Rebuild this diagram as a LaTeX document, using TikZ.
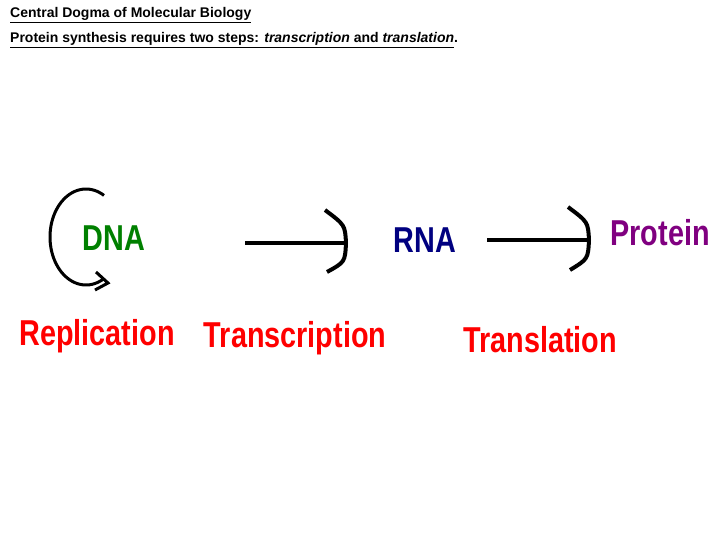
\documentclass[tikz,border=0pt]{standalone}
\usepackage{fontspec}
\setmainfont{Liberation Sans}
\begin{document}
\begin{tikzpicture}[x=1pt,y=-1pt,
  big/.style={font=\fontsize{36}{36}\bfseries, xscale=0.8, inner sep=0pt},
  conn/.style={line width=4pt}]
\useasboundingbox (0,0) rectangle (728,546);
\node[anchor=west, inner sep=0pt, font=\fontsize{14}{14}\bfseries] (t1) at (10,15) {\underline{Central Dogma of Molecular Biology}};
\node[anchor=west, inner sep=0pt, font=\fontsize{14}{14}\bfseries] (t2) at (10,40) {\underline{Protein synthesis requires two steps: \textit{transcription} and \textit{translation}}.};
\node[big, text={rgb,255:red,0;green,128;blue,0}] (dna) at (114,238) {DNA};
\node[big, text={rgb,255:red,0;green,0;blue,128}] (rna) at (425,240) {RNA};
\node[big, text={rgb,255:red,128;green,0;blue,128}] (prot) at (660,233) {Protein};
\node[big, text=red] (rep) at (97,336) {Replication};
\node[big, text=red] (tsc) at (295,338) {Transcription};
\node[big, text=red] (tsl) at (540,340) {Translation};
% circular arrow
\draw[line width=3pt] plot[domain=60:300, samples=60, smooth] ({86+36*cos(\x)},{237-48*sin(\x)});
\draw[line width=3pt] (96,272) -- (108,283) -- (95,290);
% arrows
\coordinate (a1s) at (245,243); \coordinate (a1e) at (345,243);
\draw[conn] (a1s) -- (a1e);
\draw[line width=4pt] (325,210) .. controls (345,225) .. (346,243) .. controls (345,262) .. (327,272);
\coordinate (a2s) at (487,240); \coordinate (a2e) at (588,240);
\draw[conn] (a2s) -- (a2e);
\draw[line width=4pt] (568,207) .. controls (588,222) .. (589,240) .. controls (588,259) .. (570,270);
\end{tikzpicture}
\end{document}
